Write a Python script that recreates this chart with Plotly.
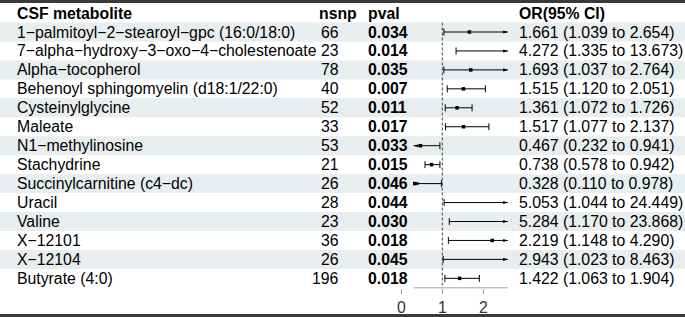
import numpy as np
import plotly.graph_objects as go

# ---------------- data ----------------
metabolites = [
    "1−palmitoyl−2−stearoyl−gpc (16:0/18:0)",
    "7−alpha−hydroxy−3−oxo−4−cholestenoate",
    "Alpha−tocopherol",
    "Behenoyl sphingomyelin (d18:1/22:0)",
    "Cysteinylglycine",
    "Maleate",
    "N1−methylinosine",
    "Stachydrine",
    "Succinylcarnitine (c4−dc)",
    "Uracil",
    "Valine",
    "X−12101",
    "X−12104",
    "Butyrate (4:0)",
]
nsnp = [66, 23, 78, 40, 52, 33, 53, 21, 26, 28, 23, 36, 26, 196]
pval = ["0.034", "0.014", "0.035", "0.007", "0.011", "0.017", "0.033",
        "0.015", "0.046", "0.044", "0.030", "0.018", "0.045", "0.018"]
odds = [1.661, 4.272, 1.693, 1.515, 1.361, 1.517, 0.467,
        0.738, 0.328, 5.053, 5.284, 2.219, 2.943, 1.422]
ci_low = [1.039, 1.335, 1.037, 1.120, 1.072, 1.077, 0.232,
          0.578, 0.110, 1.044, 1.170, 1.148, 1.023, 1.063]
ci_high = [2.654, 13.673, 2.764, 2.051, 1.726, 2.137, 0.941,
           0.942, 0.978, 24.449, 23.868, 4.290, 8.463, 1.904]
headers = ["CSF metabolite", "nsnp", "pval", "OR(95% CI)"]
x_ticks = [0, 1, 2]
x_lim = [0.3, 2.6]
ref_value = 1

# ---------------- layout constants ----------------
W, H = 685, 317
ROW0_PX = 13.05      # pixel centre of header row
ROW_H = 18.95        # pixel height of a row
X0_PX = 401.3        # pixel of x = 0 in forest panel
UNIT_PX = 41.0       # pixels per unit
FONT = "Liberation Sans, Arial, Helvetica, sans-serif"
FS = 15.8
SHADE = "#E8EDEF"

n = len(metabolites)
rows = np.arange(1, n + 1)

y_range = [(H - ROW0_PX) / ROW_H, -ROW0_PX / ROW_H]
x_range = [-X0_PX / UNIT_PX, (W - X0_PX) / UNIT_PX]

lo = np.array(ci_low)
hi = np.array(ci_high)
orv = np.array(odds)
lo_c = np.clip(lo, x_lim[0], x_lim[1])
hi_c = np.clip(hi, x_lim[0], x_lim[1])

fig = go.Figure()

# CI segments
seg_x, seg_y = [], []
for r, a, b in zip(rows, lo_c, hi_c):
    seg_x += [a, b, None]
    seg_y += [r, r, None]
fig.add_trace(go.Scatter(x=seg_x, y=seg_y, mode="lines",
                         line=dict(color="black", width=1),
                         hoverinfo="skip", showlegend=False))

# caps at unclipped ends
cap_x, cap_y = [], []
for r, a, b in zip(rows, lo, hi):
    if a >= x_lim[0]:
        cap_x.append(a); cap_y.append(r)
    if b <= x_lim[1]:
        cap_x.append(b); cap_y.append(r)
fig.add_trace(go.Scatter(x=cap_x, y=cap_y, mode="markers",
                         marker=dict(symbol="line-ns", size=5,
                                     line=dict(color="black", width=1)),
                         hoverinfo="skip", showlegend=False))

# arrows at clipped ends
ar_x, ar_y, ar_a = [], [], []
for r, a, b in zip(rows, lo, hi):
    if a < x_lim[0]:
        ar_x.append(x_lim[0]); ar_y.append(r); ar_a.append(-90)
    if b > x_lim[1]:
        ar_x.append(x_lim[1]); ar_y.append(r); ar_a.append(90)
fig.add_trace(go.Scatter(x=ar_x, y=ar_y, mode="markers",
                         marker=dict(symbol="arrow", size=5, angle=ar_a,
                                     color="black", line=dict(width=0)),
                         hoverinfo="skip", showlegend=False))

# point estimates inside limits
inside = (orv >= x_lim[0]) & (orv <= x_lim[1])
fig.add_trace(go.Scatter(x=orv[inside], y=rows[inside], mode="markers",
                         marker=dict(symbol="square", size=3.5, color="black",
                                     line=dict(width=0)),
                         hoverinfo="skip", showlegend=False))

shapes = []
# alternating row shading
for r in rows:
    if r % 2 == 1:
        shapes.append(dict(type="rect", xref="paper", yref="y", x0=0, x1=1,
                           y0=r - 0.5, y1=r + 0.5, fillcolor=SHADE,
                           line=dict(width=0), layer="below"))
# reference line
shapes.append(dict(type="line", xref="x", yref="y", x0=ref_value, x1=ref_value,
                   y0=0.5, y1=n + 0.5,
                   line=dict(color="#444444", width=1, dash="3px,2px"), layer="below"))
# x-axis line across limits
shapes.append(dict(type="line", xref="x", yref="y", x0=x_lim[0], x1=x_lim[1],
                   y0=n + 0.5, y1=n + 0.5, line=dict(color="#A0A0A0", width=1)))
# top and bottom rules
shapes.append(dict(type="line", xref="paper", yref="paper", x0=0, x1=1,
                   y0=1 - 1.5 / H, y1=1 - 1.5 / H, line=dict(color="#3A3A3A", width=3)))
shapes.append(dict(type="line", xref="paper", yref="paper", x0=0, x1=1,
                   y0=1.5 / H, y1=1.5 / H, line=dict(color="#3A3A3A", width=3)))

ann = []
def txt(t, px, y, anchor="left", bold=False):
    s = f"<b>{t}</b>" if bold else t
    ann.append(dict(text=s, x=px / W, y=y, xref="paper", yref="y",
                    xanchor=anchor, yanchor="middle", showarrow=False,
                    font=dict(family=FONT, size=FS, color="black")))

# headers
txt(headers[0], 15, 0, bold=True)
txt(headers[1], 317, 0, bold=True)
txt(headers[2], 366, 0, bold=True)
txt(headers[3], 517, 0, bold=True)

for r, name, ns, pv, o, a, b in zip(rows, metabolites, nsnp, pval, odds, ci_low, ci_high):
    txt(name, 15, r)
    txt(str(ns), 341, r, anchor="right")
    txt(pv, 366, r, bold=True)
    txt(f"{o:.3f} ({a:.3f} to {b:.3f})", 517, r)

fig.update_layout(
    width=W, height=H, margin=dict(l=0, r=0, t=0, b=0),
    paper_bgcolor="white", plot_bgcolor="rgba(0,0,0,0)",
    shapes=shapes, annotations=ann, showlegend=False,
    xaxis=dict(range=x_range, domain=[0, 1], showgrid=False, zeroline=False,
               showline=False, tickvals=x_ticks, ticks="outside", ticklen=5,
               tickcolor="#A0A0A0", tickwidth=1,
               tickfont=dict(family=FONT, size=FS, color="#333333"),
               anchor="free", position=(H - (ROW0_PX + (n + 0.5) * ROW_H)) / H,
               fixedrange=True),
    yaxis=dict(range=y_range, domain=[0, 1], visible=False, fixedrange=True),
)

fig.write_html("out.html",
               config={"displayModeBar": False, "staticPlot": True},
               post_script="document.body.style.margin='0';document.body.style.overflow='hidden';")
